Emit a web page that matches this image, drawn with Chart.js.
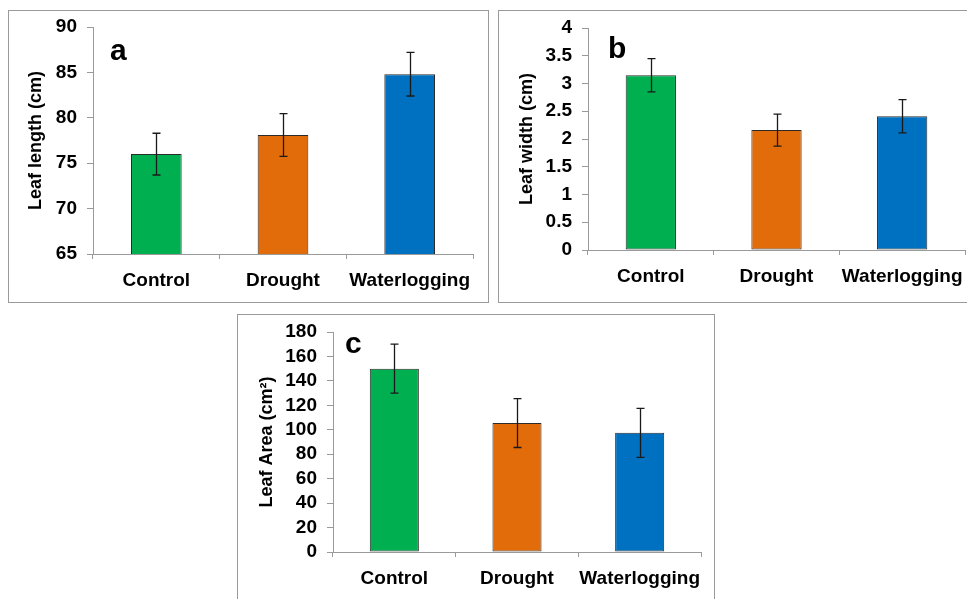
<!DOCTYPE html>
<html>
<head>
<meta charset="utf-8">
<script src="https://cdn.jsdelivr.net/npm/chart.js@4.4.1/dist/chart.umd.min.js"></script>
<style>
  html, body { margin: 0; padding: 0; background: #fff; }
  #page { position: relative; width: 967px; height: 599px; overflow: hidden; background: #fff; }
  .panel { position: absolute; box-sizing: border-box; border: 1px solid #9a9a9a; }
  canvas { position: absolute; }
</style>
</head>
<body>
<div id="page"></div>
<script>
// ---------------- DATA ----------------
const categories = ["Control", "Drought", "Waterlogging"];

const leafLength    = [76.0, 78.1, 84.8];
const leafLengthErr = [2.3, 2.35, 2.4];
const leafLengthTicks = [65, 70, 75, 80, 85, 90];

const leafWidth    = [3.15, 2.16, 2.41];
const leafWidthErr = [0.30, 0.29, 0.30];
const leafWidthTicks = [0, 0.5, 1, 1.5, 2, 2.5, 3, 3.5, 4];

const leafArea    = [150, 105.5, 97.5];
const leafAreaErr = [20, 20, 20];
const leafAreaTicks = [0, 20, 40, 60, 80, 100, 120, 140, 160, 180];

const barColors = ["#00B050", "#E36C0A", "#0070C0"];

// ---------------- LAYOUT ----------------
const panels = [
  { id: "a", letter: "a", title: "Leaf length (cm)", values: leafLength, errs: leafLengthErr, ticks: leafLengthTicks,
    box: { x: 8, y: 10, w: 481, h: 293 }, yWidth: 85, xHeight: 49, padTop: 17, padRight: 16, titlePad: 17,
    letterDx: 17, letterDy: 33 },
  { id: "b", letter: "b", title: "Leaf width (cm)", values: leafWidth, errs: leafWidthErr, ticks: leafWidthTicks,
    box: { x: 498, y: 10, w: 472, h: 293 }, yWidth: 90, xHeight: 53, padTop: 18, padRight: 5, titlePad: 18,
    letterDx: 20, letterDy: 30 },
  { id: "c", letter: "c", title: "Leaf Area (cm\u00B2)", values: leafArea, errs: leafAreaErr, ticks: leafAreaTicks,
    box: { x: 237, y: 314, w: 478, h: 290 }, yWidth: 96, xHeight: 52, padTop: 18, padRight: 14, titlePad: 19,
    letterDx: 12, letterDy: 21 }
];

const FONT = "'Liberation Sans', Arial, Helvetica, sans-serif";

const errorBarPlugin = {
  id: "errorBars",
  afterDatasetsDraw(chart, args, opts) {
    const ctx = chart.ctx;
    const meta = chart.getDatasetMeta(0);
    const yScale = chart.scales.y;
    const ds = chart.data.datasets[0];
    ctx.save();
    ctx.strokeStyle = "#1a1a1a";
    ctx.lineWidth = 1.3;
    meta.data.forEach((bar, i) => {
      const v = ds.data[i], e = opts.errs[i];
      const x = Math.round(bar.x) + 0.5;
      const yt = yScale.getPixelForValue(v + e);
      const yb = yScale.getPixelForValue(v - e);
      ctx.beginPath();
      ctx.moveTo(x, yt); ctx.lineTo(x, yb);
      ctx.moveTo(x - 4, yt); ctx.lineTo(x + 4, yt);
      ctx.moveTo(x - 4, yb); ctx.lineTo(x + 4, yb);
      ctx.stroke();
    });
    ctx.restore();
  }
};

const letterPlugin = {
  id: "panelLetter",
  afterDraw(chart, args, opts) {
    const ctx = chart.ctx;
    const a = chart.chartArea;
    ctx.save();
    ctx.fillStyle = "#000";
    ctx.font = "bold 30px " + FONT;
    ctx.textBaseline = "alphabetic";
    ctx.textAlign = "left";
    ctx.fillText(opts.text, a.left + opts.dx, a.top + opts.dy);
    ctx.restore();
  }
};

const page = document.getElementById("page");

panels.forEach(p => {
  const border = document.createElement("div");
  border.className = "panel";
  border.style.left = p.box.x + "px";
  border.style.top = p.box.y + "px";
  border.style.width = p.box.w + "px";
  border.style.height = p.box.h + "px";
  page.appendChild(border);

  const canvas = document.createElement("canvas");
  canvas.width = p.box.w;
  canvas.height = p.box.h;
  canvas.style.left = p.box.x + "px";
  canvas.style.top = p.box.y + "px";
  canvas.style.width = p.box.w + "px";
  canvas.style.height = p.box.h + "px";
  page.appendChild(canvas);

  new Chart(canvas.getContext("2d"), {
    type: "bar",
    data: {
      labels: categories,
      datasets: [{
        data: p.values,
        backgroundColor: barColors,
        borderColor: "#2b2b2b",
        borderWidth: 1,
        borderSkipped: false,
        barPercentage: 0.4,
        categoryPercentage: 1.0
      }]
    },
    plugins: [errorBarPlugin, letterPlugin],
    options: {
      responsive: false,
      animation: false,
      devicePixelRatio: 1,
      layout: { padding: { top: p.padTop, right: p.padRight, left: 0, bottom: 0 } },
      plugins: {
        legend: { display: false },
        tooltip: { enabled: false },
        errorBars: { errs: p.errs },
        panelLetter: { text: p.letter, dx: p.letterDx, dy: p.letterDy }
      },
      scales: {
        x: {
          offset: true,
          grid: { display: true, drawOnChartArea: false, drawTicks: true, tickLength: 5, offset: true, color: "#9a9a9a", lineWidth: 1 },
          border: { display: true, color: "#9a9a9a", width: 1 },
          ticks: { color: "#000", padding: 10, font: { family: FONT, size: 19, weight: "bold" }, maxRotation: 0, autoSkip: false },
          afterFit: s => { s.height = p.xHeight; s.paddingLeft = 0; s.paddingRight = 0; }
        },
        y: {
          min: p.ticks[0],
          max: p.ticks[p.ticks.length - 1],
          afterBuildTicks: s => { s.ticks = p.ticks.map(v => ({ value: v })); },
          grid: { display: true, drawOnChartArea: false, drawTicks: true, tickLength: 6, color: "#9a9a9a", lineWidth: 1 },
          border: { display: true, color: "#9a9a9a", width: 1 },
          ticks: { color: "#000", padding: 10, autoSkip: false, font: { family: FONT, size: 19, weight: "bold" },
                   callback: v => String(v) },
          title: { display: true, text: p.title, color: "#000", padding: { top: p.titlePad, bottom: 0 },
                   font: { family: FONT, size: 18, weight: "bold" } },
          afterFit: s => { s.width = p.yWidth; s.paddingTop = 0; s.paddingBottom = 0; }
        }
      }
    }
  });
});
</script>
</body>
</html>
